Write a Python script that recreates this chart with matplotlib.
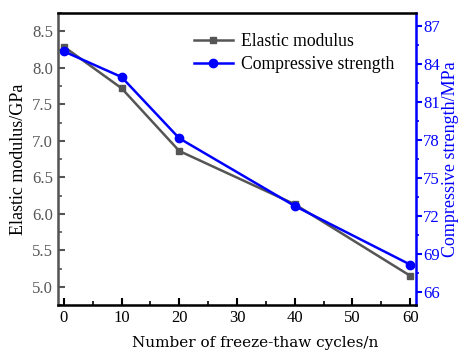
import numpy as np
import matplotlib.pyplot as plt
from matplotlib.ticker import MultipleLocator
from matplotlib.lines import Line2D

plt.rcParams['font.family'] = ['Liberation Serif', 'DejaVu Serif']

# data
cycles = [0, 10, 20, 40, 60]
elastic = [8.29, 7.72, 6.86, 6.13, 5.15]
strength = [84.98, 82.96, 78.13, 72.8, 68.18]

grey = '#555555'
blue = '#0000ff'

fig = plt.figure(figsize=(4.6, 3.52), dpi=100)
ax = fig.add_axes([58/460, 1 - 305/352, (416-58)/460, (305-13)/352])
ax2 = ax.twinx()

ax.plot(cycles, elastic, color=grey, marker='s', ms=5, lw=1.8)
ax2.plot(cycles, strength, color=blue, marker='o', ms=6, lw=1.8)

ax.set_xlim(-1, 61)
ax.set_ylim(4.75, 8.75)
ax2.set_ylim(65, 88)

ax.xaxis.set_major_locator(MultipleLocator(10))
ax.xaxis.set_minor_locator(MultipleLocator(5))
ax.yaxis.set_major_locator(MultipleLocator(0.5))
ax.yaxis.set_minor_locator(MultipleLocator(0.25))
ax2.yaxis.set_major_locator(MultipleLocator(3))
ax2.yaxis.set_minor_locator(MultipleLocator(1.5))

ax.tick_params(axis='x', which='both', direction='in', labelsize=12, colors='black')
ax.tick_params(axis='x', which='major', length=5, width=1.5)
ax.tick_params(axis='x', which='minor', length=3, width=1.2)
ax.tick_params(axis='y', which='both', direction='in', labelsize=12, colors=grey)
ax.tick_params(axis='y', which='major', length=5, width=1.5)
ax.tick_params(axis='y', which='minor', length=3, width=1.2)
ax2.tick_params(axis='y', which='both', direction='out', labelsize=12, colors=blue, pad=1)
ax2.tick_params(axis='y', which='major', length=4, width=1.5)
ax2.tick_params(axis='y', which='minor', length=2.5, width=1.2)

for s in ['top', 'bottom']:
    ax2.spines[s].set_linewidth(1.8)
    ax2.spines[s].set_color('black')
ax2.spines['left'].set_color(grey)
ax2.spines['left'].set_linewidth(1.8)
ax2.spines['right'].set_color(blue)
ax2.spines['right'].set_linewidth(1.8)

ax.set_xlabel('Number of freeze-thaw cycles/n', fontsize=11, family='DejaVu Serif')
ax.xaxis.set_label_coords(0.55, -0.105)
ax.set_ylabel('Elastic modulus/GPa', fontsize=13, color='black', labelpad=4)
ax2.set_ylabel('Compressive strength/MPa', fontsize=13, color=blue, labelpad=2)

handles = [Line2D([], [], color=grey, marker='s', ms=5, lw=1.8),
           Line2D([], [], color=blue, marker='o', ms=6, lw=1.8)]
ax.legend(handles, ['Elastic modulus', 'Compressive strength'], loc='upper left',
          bbox_to_anchor=(0.335, 0.985), frameon=False, fontsize=12.7,
          handlelength=2.2, handletextpad=0.5, labelspacing=0.35)

fig.savefig('out.png', dpi=100)
